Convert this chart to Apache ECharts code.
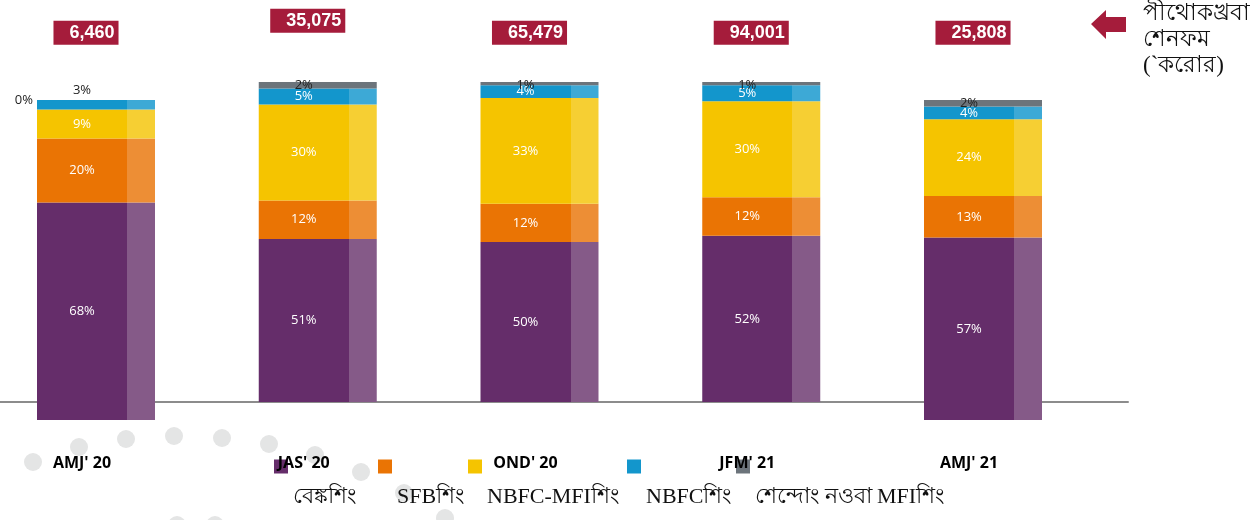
<!DOCTYPE html>
<html>
<head>
<meta charset="utf-8">
<script src="https://cdn.jsdelivr.net/npm/echarts@6/dist/echarts.min.js"></script>
<style>
  html, body { margin: 0; padding: 0; background: #fff; }
  #chart { width: 1253px; height: 520px; }
</style>
</head>
<body>
<div id="chart"></div>
<script>
// quarters
var quarters = ["AMJ' 20", "JAS' 20", "OND' 20", "JFM' 21", "AMJ' 21"];
// portfolio size in the red boxes (crore)
var portfolio = [6460, 35075, 65479, 94001, 25808];
// share of each lender type, %
var banks   = [68, 51, 50, 52, 57];
var sfb     = [20, 12, 12, 12, 13];
var nbfcMfi = [9, 30, 33, 30, 24];
var nbfc    = [3, 5, 4, 5, 4];
var others  = [0, 2, 1, 1, 2];
// bars 2-4 stand on the axis line, bars 1 and 5 run down past it
var baseOffset = [0, 5.6, 5.6, 5.6, 0];

var names = ['বেঙ্কশিং', 'SFBশিং', 'NBFC-MFIশিং', 'NBFCশিং', 'শেন্দোং নওবা MFIশিং'];
var darkColors  = ['#652d6a', '#ea7404', '#f5c400', '#1396cc', '#6c747b'];
var lightColors = ['#855a88', '#ed8e35', '#f6cf33', '#3da9d6', '#6c747b'];
var legendX = [274, 378, 468, 627, 736];
var TOTAL_ROW = 121;

var chart = echarts.init(document.getElementById('chart'));

// dark body with a lighter strip on the right of each bar
function twoTone(i) {
  return {
    type: 'linear', x: 0, y: 0, x2: 1, y2: 0,
    colorStops: [
      { offset: 0, color: darkColors[i] },
      { offset: 0.763, color: darkColors[i] },
      { offset: 0.763, color: lightColors[i] },
      { offset: 1, color: lightColors[i] }
    ]
  };
}

function labelFor(s, v) {
  if (s === 4) {
    if (v === 0) return { position: 'left', distance: 4, color: '#222', offset: [0, 0] };
    return { position: 'top', distance: -10, color: '#222' };
  }
  if (s === 3 && v <= 3) return { position: 'top', distance: 3, color: '#222' };
  return { position: 'inside', color: '#fff' };
}

var shares = [banks, sfb, nbfcMfi, nbfc, others];
var series = [{
  type: 'bar', stack: 'share', barWidth: 118, clip: false, silent: true, z: 1,
  itemStyle: { color: 'rgba(0,0,0,0)' },
  data: baseOffset
}];
shares.forEach(function (arr, s) {
  series.push({
    name: names[s],
    type: 'bar',
    stack: 'share',
    barWidth: 118,
    clip: false,
    itemStyle: { color: twoTone(s) },
    label: {
      show: true,
      formatter: '{c}%',
      fontSize: 13,
      fontFamily: 'Open Sans',
      offset: [-14, 0]
    },
    data: arr.map(function (v) { return { value: v, label: labelFor(s, v) }; })
  });
});

// red boxes with the totals
series.push({
  type: 'scatter',
  symbolSize: 1,
  silent: true,
  z: 5,
  itemStyle: { color: 'rgba(0,0,0,0)', opacity: 1 },
  label: {
    show: true,
    position: 'inside',
    opacity: 1,
    formatter: function (p) { return portfolio[p.dataIndex].toLocaleString('en-US'); },
    backgroundColor: '#a51c3b',
    color: '#fff',
    fontWeight: 'bold',
    fontSize: 18,
    fontFamily: 'Liberation Sans',
    padding: [3, 4, 3, 16]
  },
  data: portfolio.map(function (t, i) {
    return { value: [i, TOTAL_ROW], label: { offset: [-10, i === 1 ? -12 : 0] } };
  })
});

var option = {
  animation: false,
  title: {
    text: 'পীথোকখ্রবা\nশেনফম\n(`করোর)',
    left: 1138,
    top: -4,
    textStyle: { fontFamily: 'serif', fontSize: 23, fontWeight: 'normal', lineHeight: 26, color: '#111' }
  },
  // icon sits on the quarter row, the name one row lower
  legend: names.map(function (n, i) {
    return {
      data: [{ name: n, itemStyle: { color: darkColors[i] } }],
      left: legendX[i],
      top: 420,
      padding: 0,
      icon: 'rect',
      itemWidth: 14,
      itemHeight: 14,
      selectedMode: false,
      formatter: '\n\n{name}',
      textStyle: { fontFamily: 'serif', fontSize: 22, lineHeight: 31, color: '#111' }
    };
  }),
  grid: [
    { left: 96, right: 270, top: 20, bottom: 100 },
    { left: 0, right: 125, top: 300, bottom: 118 }
  ],
  xAxis: [{
    type: 'category',
    data: quarters,
    boundaryGap: false,
    z: 10,
    axisLine: { show: false },
    axisTick: { show: false },
    axisLabel: {
      color: '#000', fontWeight: 'bold', fontSize: 16, fontFamily: 'Open Sans',
      margin: 35, padding: [0, 28, 0, 0]
    }
  }, {
    gridIndex: 1,
    type: 'value',
    min: 0, max: 1,
    axisLine: { show: true, onZero: false, lineStyle: { color: '#8c8c8c', width: 2 } },
    axisTick: { show: false },
    axisLabel: { show: false },
    splitLine: { show: false }
  }],
  yAxis: [{
    type: 'value', min: 0, max: 125, show: false
  }, {
    gridIndex: 1, type: 'value', min: 0, max: 1, show: false
  }],
  graphic: [
    { type: 'circle', shape: { cx: 33, cy: 462, r: 9 }, style: { fill: '#e4e5e5' }, z: 0 },
    { type: 'circle', shape: { cx: 79, cy: 447, r: 9 }, style: { fill: '#e4e5e5' }, z: 0 },
    { type: 'circle', shape: { cx: 126, cy: 439, r: 9 }, style: { fill: '#e4e5e5' }, z: 0 },
    { type: 'circle', shape: { cx: 174, cy: 436, r: 9 }, style: { fill: '#e4e5e5' }, z: 0 },
    { type: 'circle', shape: { cx: 222, cy: 438, r: 9 }, style: { fill: '#e4e5e5' }, z: 0 },
    { type: 'circle', shape: { cx: 269, cy: 444, r: 9 }, style: { fill: '#e4e5e5' }, z: 0 },
    { type: 'circle', shape: { cx: 315, cy: 455, r: 9 }, style: { fill: '#e4e5e5' }, z: 0 },
    { type: 'circle', shape: { cx: 361, cy: 472, r: 9 }, style: { fill: '#e4e5e5' }, z: 0 },
    { type: 'circle', shape: { cx: 404, cy: 493, r: 9 }, style: { fill: '#e4e5e5' }, z: 0 },
    { type: 'circle', shape: { cx: 445, cy: 518, r: 9 }, style: { fill: '#e4e5e5' }, z: 0 },
    { type: 'circle', shape: { cx: 177, cy: 525, r: 9 }, style: { fill: '#e4e5e5' }, z: 0 },
    { type: 'circle', shape: { cx: 215, cy: 525, r: 9 }, style: { fill: '#e4e5e5' }, z: 0 },
    {
      type: 'polygon',
      shape: { points: [[1091, 24], [1106, 10], [1106, 17], [1126, 17], [1126, 32], [1106, 32], [1106, 39]] },
      style: { fill: '#a51c3b' }
    }
  ],
  series: series
};

chart.setOption(option);
</script>
</body>
</html>
